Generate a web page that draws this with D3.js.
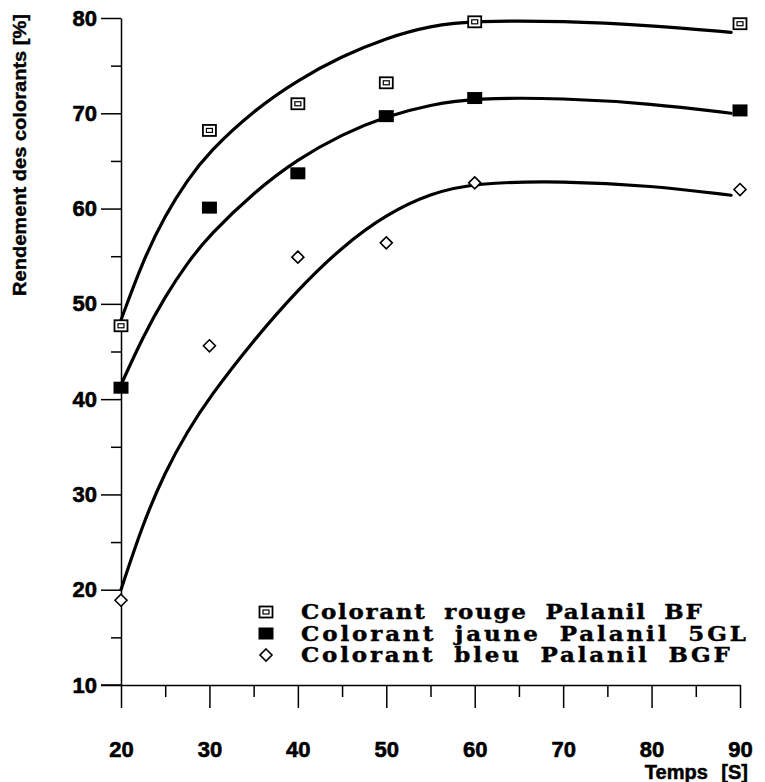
<!DOCTYPE html>
<html><head><meta charset="utf-8">
<script src="https://cdn.jsdelivr.net/npm/d3@7"></script>
<style>
html,body{margin:0;padding:0;background:#fff;}
svg{display:block;}
</style></head>
<body>
<svg id="chart" width="765" height="782"></svg>
<script>
// ---- data ----
const times = [20, 30, 40, 50, 60, 90];
const rouge = [47.7, 68.2, 71.0, 73.2, 79.6, 79.4];
const jaune = [41.2, 60.1, 63.7, 69.7, 71.6, 70.3];
const bleu  = [18.9, 45.6, 54.9, 56.4, 62.7, 62.0];

// fitted curves
const fitTimes = [20, 22.5, 25, 27.5, 30, 35, 40, 45, 50, 55, 60, 70, 80, 89];
const fitRouge = [48.3, 54.6, 59.3, 63.0, 66.0, 70.3, 73.5, 76.0, 77.9, 79.2, 79.7, 79.7, 79.2, 78.5];
const fitJaune = [41.5, 46.6, 50.8, 54.3, 57.2, 61.7, 65.2, 67.8, 69.7, 70.9, 71.6, 71.6, 71.0, 70.0];
const fitBleu  = [20.0, 27.0, 32.4, 36.6, 40.2, 46.2, 51.5, 56.0, 59.4, 61.6, 62.7, 62.9, 62.4, 61.4];

const yTicks = [10, 20, 30, 40, 50, 60, 70, 80];
const yMinor = [15, 25, 35, 45, 55, 65, 75];
const xTicks = [20, 30, 40, 50, 60, 70, 80, 90];
const xMinor = [25, 35, 45, 55, 65, 75, 85];

const legendLabels = ["Colorant rouge Palanil BF", "Colorant jaune Palanil 5GL", "Colorant bleu Palanil BGF"];
const yTitle = "Rendement des colorants [%]";
const xTitle = "Temps [S]";

// ---- drawing ----
const svg = d3.select("#chart");
const x = d3.scaleLinear().domain([20, 90]).range([121, 740]);
const y = d3.scaleLinear().domain([10, 80]).range([685, 18]);

const tickFont = "bold 22px 'Liberation Sans', Arial, sans-serif";

// y axis major
const gy = svg.append("g").attr("transform", "translate(121,0)")
  .call(d3.axisLeft(y).tickValues(yTicks).tickSize(20).tickSizeOuter(0).tickPadding(4).tickFormat(d3.format("d")));
gy.selectAll("text").style("font", tickFont).attr("fill", "#000")
  .attr("stroke", "#000").attr("stroke-width", 0.6);
// y minor
svg.append("g").attr("transform", "translate(121,0)")
  .call(d3.axisLeft(y).tickValues(yMinor).tickSize(10).tickSizeOuter(0).tickFormat(""))
  .select(".domain").remove();

// x axis major
const gx = svg.append("g").attr("transform", "translate(0,685)")
  .call(d3.axisBottom(x).tickValues(xTicks).tickSize(23).tickSizeOuter(0).tickPadding(33).tickFormat(d3.format("d")));
gx.selectAll("text").style("font", tickFont).attr("fill", "#000")
  .attr("stroke", "#000").attr("stroke-width", 0.6);
svg.append("g").attr("transform", "translate(0,685)")
  .call(d3.axisBottom(x).tickValues(xMinor).tickSize(12).tickSizeOuter(0).tickFormat(""))
  .select(".domain").remove();
// extend x axis line left to the y=10 tick
svg.append("line").attr("x1", 101).attr("x2", 121).attr("y1", 685).attr("y2", 685).attr("stroke", "#000").attr("stroke-width", 1.5);

svg.selectAll(".domain").attr("stroke", "#000").attr("stroke-width", 1.5);
svg.selectAll(".tick line").attr("stroke", "#000").attr("stroke-width", 1.5);

// titles
svg.append("text")
  .attr("transform", "translate(26,155) rotate(-90)")
  .attr("text-anchor", "middle")
  .attr("textLength", 282).attr("lengthAdjust", "spacingAndGlyphs")
  .attr("stroke", "#000").attr("stroke-width", 0.4)
  .style("font", "bold 19px 'Liberation Sans', Arial, sans-serif")
  .text(yTitle);
svg.append("text")
  .attr("x", 748).attr("y", 779).attr("text-anchor", "end")
  .attr("stroke", "#000").attr("stroke-width", 0.5)
  .style("font", "bold 20px 'Liberation Sans', Arial, sans-serif")
  .style("word-spacing", "8px")
  .text(xTitle);

// curves
const line = d3.line().x(d => x(d[0])).y(d => y(d[1])).curve(d3.curveBasis);
[fitRouge, fitJaune, fitBleu].forEach(f => {
  svg.append("path")
    .datum(fitTimes.map((t, i) => [t, f[i]]))
    .attr("d", line)
    .attr("fill", "none").attr("stroke", "#000").attr("stroke-width", 3.2)
    .attr("stroke-linecap", "round");
});

// markers
function markRouge(g, cx, cy) {
  g.append("rect").attr("x", cx - 6.5).attr("y", cy - 5.5).attr("width", 13).attr("height", 11)
    .attr("fill", "#fff").attr("stroke", "#000").attr("stroke-width", 1.8);
  g.append("rect").attr("x", cx - 3).attr("y", cy - 2).attr("width", 6).attr("height", 4)
    .attr("fill", "#fff").attr("stroke", "#000").attr("stroke-width", 1.2);
}
function markJaune(g, cx, cy) {
  g.append("rect").attr("x", cx - 7.5).attr("y", cy - 6).attr("width", 15).attr("height", 12)
    .attr("fill", "#000");
}
function markBleu(g, cx, cy) {
  g.append("path").attr("d", `M${cx},${cy - 6}L${cx + 6},${cy}L${cx},${cy + 6}L${cx - 6},${cy}Z`)
    .attr("fill", "#fff").attr("stroke", "#000").attr("stroke-width", 1.6);
}
const gm = svg.append("g");
times.forEach((t, i) => {
  markRouge(gm, x(t), y(rouge[i]));
  markJaune(gm, x(t), y(jaune[i]));
  markBleu(gm, x(t), y(bleu[i]));
});

// legend
const lg = svg.append("g");
const markers = [markRouge, markJaune, markBleu];
const legendSpan = [402, 446, 430];
const sx = 1.15;
legendLabels.forEach((lab, i) => {
  const cy = 612 + i * 21.5;
  markers[i](lg, 266, cy);
  lg.append("text")
    .attr("transform", `translate(301,${cy + 7}) scale(${sx},1)`)
    .attr("textLength", legendSpan[i] / sx).attr("lengthAdjust", "spacing")
    .attr("stroke", "#000").attr("stroke-width", 0.4)
    .style("font", "bold 20px 'DejaVu Serif', serif")
    .style("letter-spacing", "1px")
    .style("word-spacing", "7px")
    .text(lab);
});
</script>
</body></html>
